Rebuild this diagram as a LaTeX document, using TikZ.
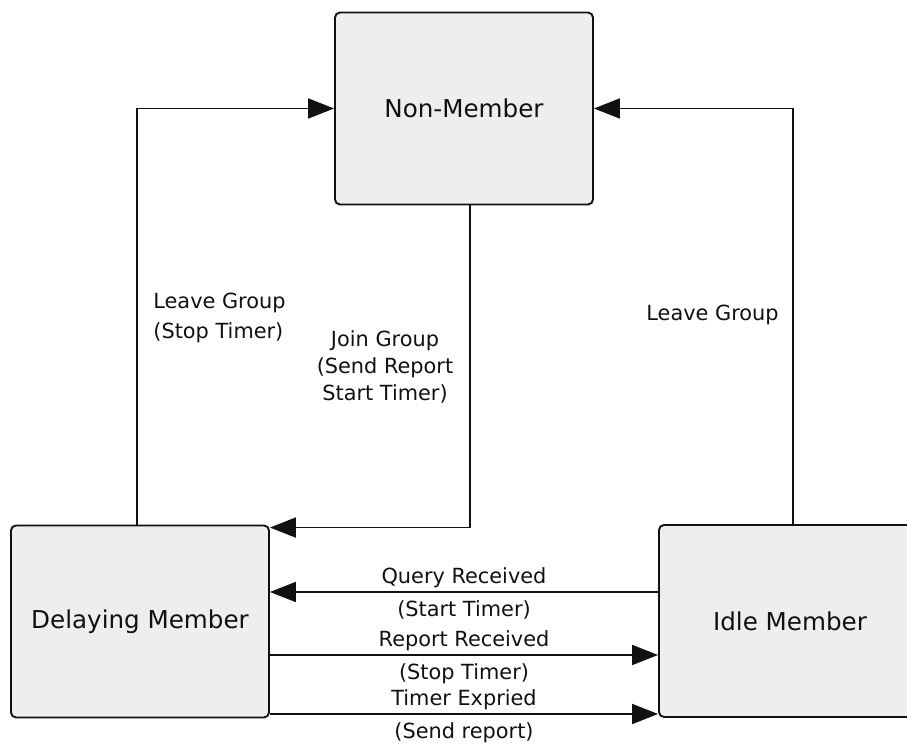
\documentclass[tikz,border=0pt]{standalone}
\usepackage{fontspec}
\setmainfont{DejaVu Sans}
\usetikzlibrary{arrows.meta}
\definecolor{boxgrey}{HTML}{EEEEEE}
\definecolor{ink}{HTML}{111111}

\begin{document}
\begin{tikzpicture}[
    state/.style={
        draw=ink, line width=1.6pt, fill=boxgrey, rounded corners=0.15cm,
        minimum width=7.74cm, minimum height=5.76cm,
        font=\fontsize{21}{25}\selectfont, text=ink, align=center,
    },
    arr/.style={-{Triangle[length=0.78cm, width=0.6cm]}, line width=1.6pt, color=ink},
    lbl/.style={font=\fontsize{17.8}{25}\selectfont, text=ink, inner sep=1pt},
]

\clip (0, 0) rectangle (27.21, 22.32);

% ════════════════════════════════════════
% States
% ════════════════════════════════════════
\node[state] (nonmember) at (13.92, 19.065) {Non-Member};
\node[state] (delaying) at (4.2, 3.675) {Delaying Member};
\node[state, minimum width=7.86cm] (idle) at (23.7, 3.69) {Idle Member};

% ════════════════════════════════════════
% Transitions to and from Non-Member
% ════════════════════════════════════════
\draw[arr] ([xshift=-0.09cm]delaying.north) |- (nonmember.west);
\draw[arr] ([xshift=0.09cm]idle.north) |- (nonmember.east);
\draw[arr] ([xshift=0.18cm]nonmember.south) |- ([yshift=-0.09cm]delaying.north east);

\node[lbl, anchor=west, align=left] (lblstop) at (4.56, 12.78) {Leave Group\\(Stop Timer)};
\node[lbl, align=center, font=\fontsize{17.8}{23}\selectfont] (lbljoin) at (11.55, 11.31) {Join Group\\(Send Report\\Start Timer)};
\node[lbl, anchor=east] (lblleave) at (23.4, 12.87) {Leave Group};

% ════════════════════════════════════════
% Transitions between Delaying and Idle
% ════════════════════════════════════════
\coordinate (query) at ([yshift=0.885cm]delaying.east);
\coordinate (report) at ([yshift=-1.005cm]delaying.east);
\coordinate (expire) at ([yshift=-2.775cm]delaying.east);

\draw[arr] (query -| idle.west) -- (query)
    node[midway, above=2pt, lbl] {Query Received}
    node[midway, below=6pt, lbl] {(Start Timer)};
\draw[arr] (report) -- (report -| idle.west)
    node[midway, above=2pt, lbl] {Report Received}
    node[midway, below=6pt, lbl] {(Stop Timer)};
\draw[arr] (expire) -- (expire -| idle.west)
    node[midway, above=2pt, lbl] {Timer Expried}
    node[midway, below=6pt, lbl] {(Send report)};

\end{tikzpicture}
\end{document}
